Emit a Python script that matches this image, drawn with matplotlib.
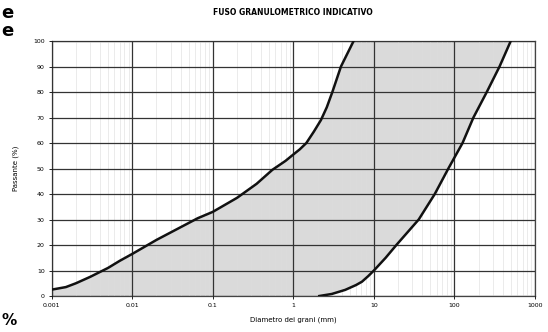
import matplotlib
matplotlib.use("Agg")
import matplotlib.pyplot as plt
from matplotlib.ticker import FixedLocator, LogLocator, NullFormatter

# limite fine del fuso (diametro mm, passante %)
fine_d = [0.001, 0.0015, 0.002, 0.003, 0.005, 0.007, 0.01, 0.02, 0.04, 0.065,
          0.1, 0.2, 0.35, 0.55, 0.8, 1.0, 1.2, 1.45, 1.8, 2.2, 2.6, 3.05,
          3.9, 5.6]
fine_p = [2.5, 3.5, 5, 7.5, 11, 13.8, 16.5, 22, 27, 30.5,
          33, 38.5, 44, 49.5, 53, 55.5, 57.5, 60, 64.5, 69, 74, 80,
          90, 100]

# limite grosso del fuso
coarse_d = [2.1, 3.0, 4.4, 6.0, 7.1, 8.5, 10, 14, 19, 36, 57, 84, 126,
            172, 252, 363, 500]
coarse_p = [0, 0.8, 2.4, 4.3, 5.6, 7.8, 10, 15, 20, 30, 40, 50, 60,
            70, 80, 90, 100]

x_ticks = [0.001, 0.01, 0.1, 1, 10, 100, 1000]
x_labels = ["0.001", "0.01", "0.1", "1", "10", "100", "1000"]
y_ticks = list(range(0, 101, 10))

fig = plt.figure(figsize=(5.48, 3.32), dpi=100)
ax = fig.add_axes([0.0943, 0.1084, 0.8820, 0.7681])

# area del fuso: sotto il limite fine e sopra il limite grosso
poly_x = fine_d + [coarse_d[-1]] + coarse_d[::-1] + [fine_d[0]]
poly_y = fine_p + [100] + coarse_p[::-1] + [0]
ax.fill(poly_x, poly_y, color="#dadada", lw=0, zorder=1)

ax.plot(fine_d, fine_p, color="#111111", lw=1.8, zorder=4)
ax.plot(coarse_d, coarse_p, color="#111111", lw=1.8, zorder=4)

ax.set_xscale("log")
ax.set_xlim(0.001, 1000)
ax.set_ylim(0, 100)
ax.xaxis.set_major_locator(FixedLocator(x_ticks))
ax.set_xticklabels(x_labels)
ax.xaxis.set_minor_locator(LogLocator(base=10, subs=range(2, 10)))
ax.xaxis.set_minor_formatter(NullFormatter())
ax.set_yticks(y_ticks)

ax.grid(which="major", color="#333333", lw=0.9, zorder=2)
ax.grid(which="minor", axis="x", color="#dcdcdc", lw=0.4, zorder=2)
ax.set_axisbelow(False)
for s in ax.spines.values():
    s.set_color("#444444")
    s.set_linewidth(0.9)

ax.tick_params(which="major", labelsize=4.5, length=2, width=0.6, pad=3)
ax.tick_params(which="minor", length=0)

ax.set_xlabel("Diametro dei grani (mm)", fontsize=5, labelpad=6)
ax.set_ylabel("Passante (%)", fontsize=5, labelpad=10)
ax.set_title("FUSO GRANULOMETRICO INDICATIVO", fontsize=5.5,
             fontweight="bold", pad=19)

# residui del testo della pagina sul bordo sinistro
fig.text(0.003, 0.962, "e", fontsize=13, fontweight="bold", va="center")
fig.text(0.003, 0.908, "e", fontsize=13, fontweight="bold", va="center")
fig.text(0.003, 0.035, "%", fontsize=11, fontweight="bold", va="center")

fig.savefig("out.png", dpi=100)
